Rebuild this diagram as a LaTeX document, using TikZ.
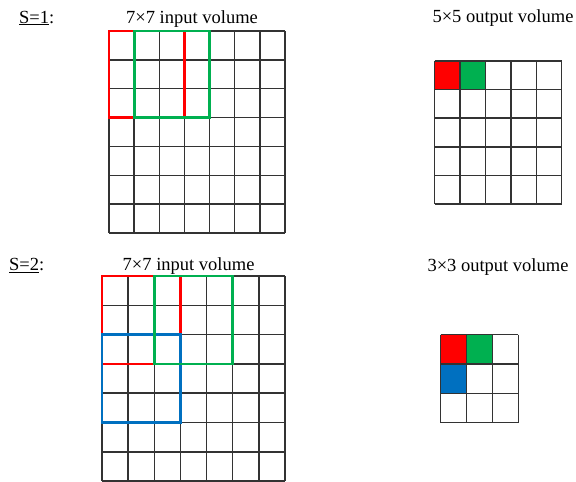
\documentclass[tikz,border=0pt]{standalone}
\usepackage{fontspec}
\setmainfont{Liberation Serif}
\usepackage{xcolor}
\usepackage{tikz}
\definecolor{winred}{HTML}{FF0000}
\definecolor{wingreen}{HTML}{00B050}
\definecolor{winblue}{HTML}{0070C0}

\begin{document}
\begin{tikzpicture}[x=1pt, y=-1pt,
  cell/.style={draw=black!80, line width=1.5pt},
  win/.style={line width=2.8pt, line cap=rect},
  lbl/.style={font=\fontsize{18.5}{21}\selectfont, anchor=base, inner sep=0pt},
]
\useasboundingbox (0,0) rectangle (576,482);

% S=1: labels
\node[lbl, anchor=base west] (s1) at (19,23) {\underline{S=1}:};
\node[lbl] (in1) at (192,23.5) {7×7 input volume};
\node[lbl] (out1) at (503,22.5) {5×5 output volume};

% S=1: input volume (7x7)
\foreach \i in {0,...,7} {
  \draw[cell] ({109+\i*25.14},31) -- ++(0,202);
  \draw[cell] (109,{31+\i*28.86}) -- ++(176,0);
}
\draw[win, winred] (109,31) rectangle ++(75.4,86.6);
\draw[win, wingreen] (134.14,31) rectangle ++(75.4,86.6);

% S=1: output volume (5x5)
\fill[winred] (434.7,61) rectangle ++(25.4,28.6);
\fill[wingreen] (460.1,61) rectangle ++(25.4,28.6);
\foreach \i in {0,...,5} {
  \draw[cell] ({434.7+\i*25.4},61) -- ++(0,143);
  \draw[cell] (434.7,{61+\i*28.6}) -- ++(127,0);
}

% S=2: labels
\node[lbl, anchor=base west] (s2) at (9,270.7) {\underline{S=2}:};
\node[lbl] (in2) at (188.6,270.7) {7×7 input volume};
\node[lbl] (out2) at (498,271) {3×3 output volume};

% S=2: input volume (7x7)
\foreach \i in {0,...,7} {
  \draw[cell] ({102+\i*26.14},276) -- ++(0,205);
  \draw[cell] (102,{276+\i*29.3}) -- ++(183,0);
}
\draw[win, winred] (102,276) rectangle ++(78.4,87.9);
\draw[win, winblue] (102,334.6) rectangle ++(78.4,87.9);
\draw[win, wingreen] (154.3,276) rectangle ++(78.4,87.9);

% S=2: output volume (3x3)
\fill[winred] (440.7,334.7) rectangle ++(25.9,29.3);
\fill[wingreen] (466.6,334.7) rectangle ++(25.9,29.3);
\fill[winblue] (440.7,364) rectangle ++(25.9,29.3);
\foreach \i in {0,...,3} {
  \draw[cell] ({440.7+\i*25.9},334.7) -- ++(0,87.9);
  \draw[cell] (440.7,{334.7+\i*29.3}) -- ++(77.7,0);
}
\end{tikzpicture}
\end{document}
